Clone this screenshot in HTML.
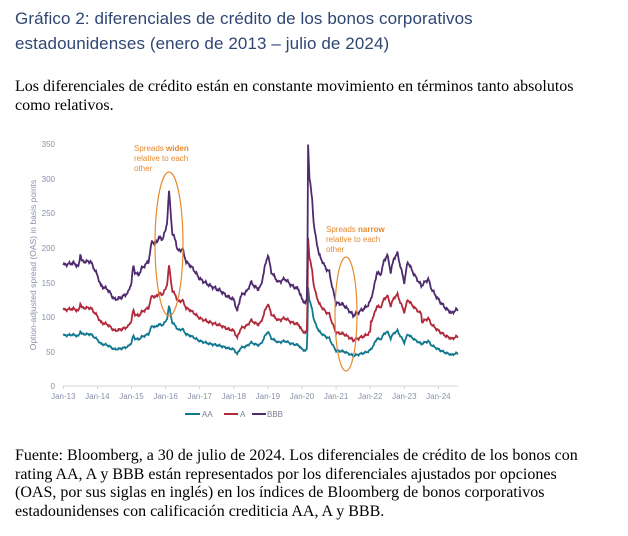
<!DOCTYPE html>
<html><head><meta charset="utf-8"><style>
body{margin:0;width:628px;height:536px;background:#fff;position:relative;overflow:hidden}
.t{position:absolute;left:15px;top:6px;font-family:"Liberation Sans",sans-serif;font-size:17px;line-height:25px;color:#2f4673;letter-spacing:0.1px}
.p{position:absolute;left:15px;font-family:"Liberation Serif",serif;font-size:16px;line-height:18.6px;color:#000}
svg{position:absolute;left:0;top:0}
</style></head><body>
<div class="t">Gráfico 2: diferenciales de crédito de los bonos corporativos<br>estadounidenses (enero de 2013 – julio de 2024)</div>
<div class="p" style="top:78px">Los diferenciales de crédito están en constante movimiento en términos tanto absolutos<br>como relativos.</div>
<div class="p" style="top:447px">Fuente: Bloomberg, a 30 de julio de 2024. Los diferenciales de crédito de los bonos con<br>rating AA, A y BBB están representados por los diferenciales ajustados por opciones<br>(OAS, por sus siglas en inglés) en los índices de Bloomberg de bonos corporativos<br>estadounidenses con calificación crediticia AA, A y BBB.</div>
<svg width="628" height="536" font-family="Liberation Sans, sans-serif">
<g font-size="8" fill="#8a90a8" text-anchor="end">
<text x="55" y="147">350</text><text x="55" y="182">300</text><text x="55" y="216">250</text><text x="55" y="251">200</text><text x="55" y="286">150</text><text x="55" y="320">100</text><text x="55" y="355">50</text><text x="55" y="389">0</text>
</g>
<text transform="translate(36,265) rotate(-90)" font-size="8.5" fill="#8a90a8" text-anchor="middle">Option-adjusted spread (OAS) in basis points</text>
<line x1="63" y1="386" x2="458" y2="386" stroke="#c8c8d0" stroke-width="0.8"/>
<g id="xt" font-size="8" fill="#8a90a8" text-anchor="middle"></g>
<g id="series" fill="none" stroke-width="1.8"></g>
<ellipse cx="169" cy="244" rx="14" ry="72" fill="none" stroke="#e68a2e" stroke-width="1.2"/>
<ellipse cx="346" cy="314" rx="11" ry="57" fill="none" stroke="#e68a2e" stroke-width="1.2"/>
<g font-size="8" fill="#e68a2e">
<text x="134" y="151">Spreads <tspan font-weight="bold">widen</tspan></text>
<text x="134" y="161">relative to each</text><text x="134" y="171">other</text>
<text x="326" y="232">Spreads <tspan font-weight="bold">narrow</tspan></text>
<text x="326" y="242">relative to each</text><text x="326" y="252">other</text>
</g>
<g font-size="8" fill="#7a7f95">
<line x1="185" y1="414" x2="200" y2="414" stroke="#11788f" stroke-width="2"/><text x="202" y="417">AA</text>
<line x1="224" y1="414" x2="238" y2="414" stroke="#b02a3c" stroke-width="2"/><text x="240" y="417">A</text>
<line x1="252" y1="414" x2="266" y2="414" stroke="#4e2a6e" stroke-width="2"/><text x="267" y="417">BBB</text>
</g>
</svg>
<script>
var X0=63.3,PX=34.1,Y0=386,PY=0.6914;
var xt=document.getElementById('xt');var s='';
for(var i=0;i<12;i++){var x=X0+i*PX;s+='<line x1="'+x+'" y1="386" x2="'+x+'" y2="389" stroke="#c8c8d0" stroke-width="0.8"/><text x="'+x+'" y="399">Jan-'+(13+i)+'</text>';}
xt.innerHTML=s;
var k=[[0,175],[.3,178],[.45,172],[.5,192],[.55,180],[.8,180],[1,160],[1.1,145],[1.3,140],[1.5,125],[1.7,128],[1.9,135],[2,150],[2.05,175],[2.1,165],[2.2,160],[2.3,170],[2.5,180],[2.6,210],[2.7,205],[2.8,215],[2.9,212],[3,225],[3.05,240],[3.1,282],[3.15,250],[3.2,220],[3.3,210],[3.35,195],[3.5,198],[3.6,180],[3.8,170],[4,155],[4.3,145],[4.6,138],[4.8,130],[5,125],[5.1,108],[5.2,130],[5.4,138],[5.5,150],[5.7,140],[5.8,145],[5.9,170],[6,190],[6.1,165],[6.3,150],[6.5,155],[6.7,145],[6.9,140],[7,125],[7.1,120],[7.15,125],[7.18,350],[7.22,300],[7.3,270],[7.35,230],[7.5,190],[7.7,170],[7.8,165],[7.9,140],[8,120],[8.2,118],[8.4,108],[8.5,102],[8.7,108],[8.9,115],[9,122],[9.1,140],[9.2,165],[9.3,160],[9.4,180],[9.5,190],[9.6,165],[9.7,185],[9.8,192],[9.9,170],[10,150],[10.1,180],[10.3,160],[10.5,145],[10.7,155],[10.8,140],[11,125],[11.2,113],[11.4,105],[11.5,110],[11.58,110]];
function f(t){for(var i=1;i<k.length;i++){if(t<=k[i][0]){var a=k[i-1],b=k[i];return a[1]+(b[1]-a[1])*(t-a[0])/(b[0]-a[0]);}}return k[k.length-1][1];}
function path(fn,m){var d='';for(var t=0;t<=11.58;t+=0.02){var v=fn(t)+m*(1.6*Math.sin(t*47)+1.1*Math.sin(t*113));d+=(d?'L':'M')+(X0+t*PX).toFixed(1)+' '+(Y0-v*PY).toFixed(1);}return d;}
var g=document.getElementById('series');
g.innerHTML='<path d="'+path(function(t){return 0.4*f(t)+3},0.6)+'" stroke="#11788f"/>'+
'<path d="'+path(function(t){return 0.6*f(t)+5+(t>9&&t<10.5?12:0)},0.8)+'" stroke="#b02a3c"/>'+
'<path d="'+path(f,1)+'" stroke="#4e2a6e"/>';
</script>
</body></html>
